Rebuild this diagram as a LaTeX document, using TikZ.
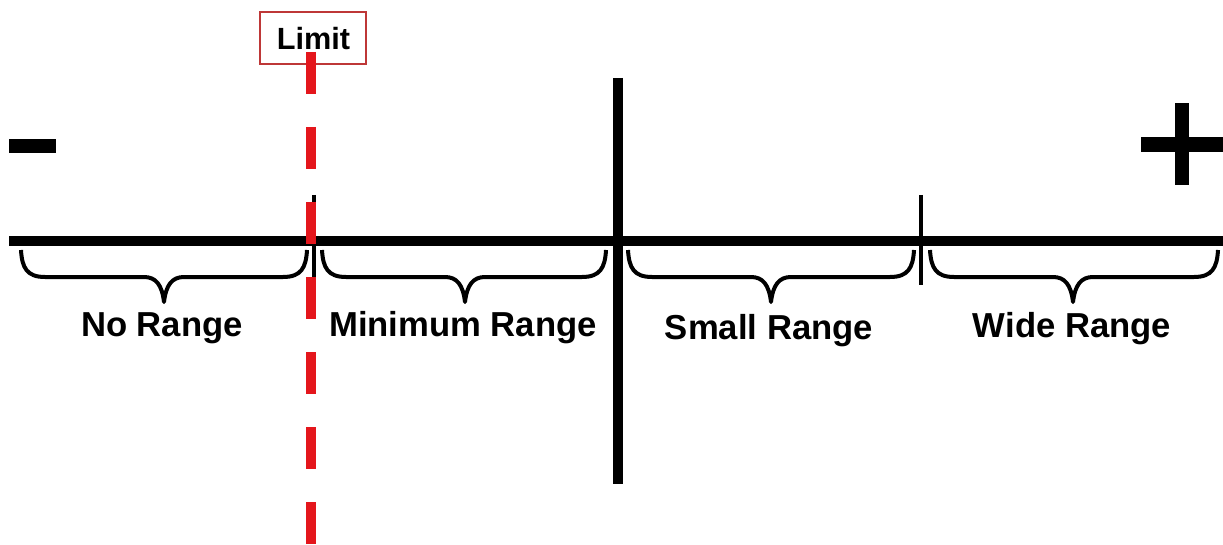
\documentclass[tikz,border=0pt]{standalone}
\usepackage{fontspec}
\setmainfont{Liberation Sans}
\begin{document}
\begin{tikzpicture}[x=0.75pt,y=-0.75pt,
  axisline/.style={line width=7.5pt,black},
  bigtick/.style={line width=7.5pt,black},
  smalltick/.style={line width=2.6pt,black},
  limitline/.style={line width=8.2pt,draw={rgb,255:red,228;green,22;blue,28},dash pattern=on 31.5pt off 24.75pt},
  bracepath/.style={line width=3pt,black,line join=round},
  rangelabel/.style={font=\bfseries\fontsize{26}{30}\selectfont,anchor=base,inner sep=0pt},
  limitbox/.style={draw={rgb,255:red,190;green,55;blue,55},line width=0.8pt,fill=white,minimum width=79.5pt,minimum height=39pt,inner sep=0pt}
]
\useasboundingbox (0,0) rectangle (1223,545);
% axis
\coordinate (axL) at (9,241);
\coordinate (axR) at (1223,241);
\draw[axisline] (axL) -- (axR);
% big vertical divider
\coordinate (vT) at (618,78);
\coordinate (vB) at (618,484);
\draw[bigtick] (vT) -- (vB);
% small ticks
\coordinate (t1T) at (314,195);
\coordinate (t1B) at (314,285);
\draw[smalltick] (t1T) -- (t1B);
\coordinate (t2T) at (921,195);
\coordinate (t2B) at (921,285);
\draw[smalltick] (t2T) -- (t2B);
% minus and plus
\fill[black] (9,139) rectangle (56,153);
\fill[black] (1141,137) rectangle (1223,152);
\fill[black] (1175,103) rectangle (1189,185);
% braces
\foreach \xa/\xm/\xb in {21/164/307, 322/465/606, 628/771/914, 930/1073/1218}{
  \draw[bracepath] (\xa,250) .. controls (\xa+1,268) and (\xa+6,277) .. (\xa+24,277)
    -- (\xm-20,277) .. controls (\xm-8,277) and (\xm-2,285) .. (\xm,302)
    .. controls (\xm+2,285) and (\xm+8,277) .. (\xm+20,277)
    -- (\xb-24,277) .. controls (\xb-6,277) and (\xb-1,268) .. (\xb,250);
}
% labels
\node[rangelabel] (noR) at (162,336) {No Range};
\node[rangelabel] (minR) at (463,336) {Minimum Range};
\node[rangelabel] (smallR) at (769,339) {Small Range};
\node[rangelabel] (wideR) at (1072,337) {Wide Range};
% limit box
\node[limitbox] (limbox) at (313,38) {};
\node[font=\bfseries\fontsize{23}{27}\selectfont,anchor=base,inner sep=0pt] (limtxt) at (313.5,50) {Limit};
% limit dashed line
\coordinate (lT) at (311,52);
\coordinate (lB) at (311,545);
\draw[limitline] (lT) -- (lB);
\end{tikzpicture}
\end{document}
